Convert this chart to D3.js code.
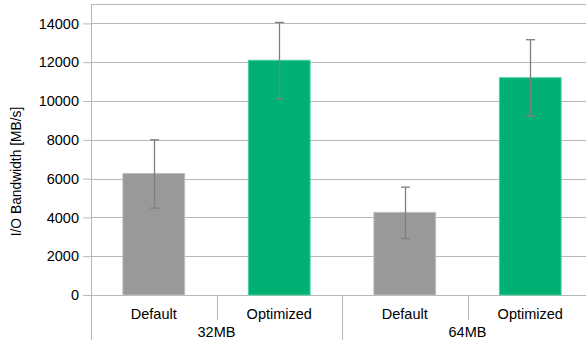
<!DOCTYPE html>
<html>
<head>
<meta charset="utf-8">
<script src="https://cdn.jsdelivr.net/npm/d3@7"></script>
<style>
  body { margin: 0; background: #fff; }
  svg { display: block; font-family: "Liberation Sans", Arial, sans-serif; }
</style>
</head>
<body>
<div id="chart"></div>
<script>
// Data
const groups = ['32MB', '64MB'];
const configs = ['Default', 'Optimized'];
const means = [6260, 12100, 4260, 11200];
const errLow = [4480, 10110, 2910, 9210];
const errHigh = [8000, 14050, 5560, 13160];
const yTicks = [0, 2000, 4000, 6000, 8000, 10000, 12000, 14000];
const colors = {Default: '#999999', Optimized: '#00b173'};
const edge = {Default: '#bdbdbd', Optimized: '#4fd09e'};

const width = 586, height = 341;
const plot = {left: 91, right: 593, top: 4, bottom: 295};

const svg = d3.select('#chart').append('svg')
    .attr('width', width)
    .attr('height', height);

const bars = [];
groups.forEach((g, gi) => configs.forEach((c, ci) => {
    const i = gi * configs.length + ci;
    bars.push({key: g + '|' + c, group: g, config: c,
        mean: means[i], lo: errLow[i], hi: errHigh[i]});
}));

const x = d3.scaleBand()
    .domain(bars.map(d => d.key))
    .range([plot.left, plot.right])
    .paddingInner(0.5)
    .paddingOuter(0.25);

const xGroup = d3.scaleBand()
    .domain(groups)
    .range([plot.left, plot.right]);

const y = d3.scaleLinear()
    .domain([0, 15000])
    .range([plot.bottom, plot.top]);

const grid = '#b8b8b8';

// gridlines + y tick labels
const yAxis = svg.append('g')
    .attr('transform', `translate(${plot.left},0)`)
    .call(d3.axisLeft(y).tickValues(yTicks).tickSize(8).tickPadding(4).tickFormat(d3.format('d')));
yAxis.select('.domain').remove();
yAxis.selectAll('.tick line').attr('stroke', grid);
yAxis.selectAll('.tick text')
    .attr('fill', '#000')
    .style('font-size', '14.5px')
    .style('font-family', '"Liberation Sans", Arial, sans-serif');

svg.append('g').selectAll('line')
    .data(yTicks.concat([15000]))
    .join('line')
    .attr('x1', plot.left).attr('x2', width)
    .attr('y1', d => Math.round(y(d)) + 0.5)
    .attr('y2', d => Math.round(y(d)) + 0.5)
    .attr('stroke', grid)
    .attr('stroke-width', 1);

// left axis line, extends down through category area
svg.append('line')
    .attr('x1', plot.left + 0.5).attr('x2', plot.left + 0.5)
    .attr('y1', plot.top).attr('y2', 340)
    .attr('stroke', grid);

// bars
svg.append('g').selectAll('rect')
    .data(bars)
    .join('rect')
    .attr('x', d => x(d.key) + 0.5)
    .attr('y', d => y(d.mean))
    .attr('width', x.bandwidth() - 1)
    .attr('height', d => y(0) - y(d.mean))
    .attr('fill', d => colors[d.config])
    .attr('stroke', d => edge[d.config])
    .attr('stroke-width', 1);

// error bars
const eb = svg.append('g').attr('stroke', '#7f7f7f').attr('stroke-width', 1.3);
bars.forEach(d => {
    const cx = Math.round(x(d.key) + x.bandwidth() / 2) + 0.5;
    eb.append('line').attr('x1', cx).attr('x2', cx).attr('y1', y(d.hi)).attr('y2', y(d.lo));
    [d.hi, d.lo].forEach(v => eb.append('line')
        .attr('x1', cx - 4.5).attr('x2', cx + 4.5)
        .attr('y1', y(v)).attr('y2', y(v)));
});

// category separators
const step = x.step();
bars.forEach((d, i) => {
    if (i === 0) return;
    const sx = Math.round(plot.left + i * step) + 0.5;
    const isGroup = i % configs.length === 0;
    svg.append('line')
        .attr('x1', sx).attr('x2', sx)
        .attr('y1', plot.bottom).attr('y2', isGroup ? 340 : 320)
        .attr('stroke', grid);
});

// category labels
svg.append('g').selectAll('text')
    .data(bars)
    .join('text')
    .attr('x', d => x(d.key) + x.bandwidth() / 2)
    .attr('y', 319)
    .attr('text-anchor', 'middle')
    .style('font-size', '14.5px')
    .text(d => d.config);

svg.append('g').selectAll('text')
    .data(groups)
    .join('text')
    .attr('x', d => xGroup(d) + xGroup.bandwidth() / 2)
    .attr('y', 337)
    .attr('text-anchor', 'middle')
    .style('font-size', '14.5px')
    .text(d => d);

// y axis title
svg.append('text')
    .attr('transform', `translate(21,${(plot.top + plot.bottom) / 2 + 22}) rotate(-90)`)
    .attr('text-anchor', 'middle')
    .style('font-size', '13.8px')
    .text('I/O Bandwidth [MB/s]');
</script>
</body>
</html>
